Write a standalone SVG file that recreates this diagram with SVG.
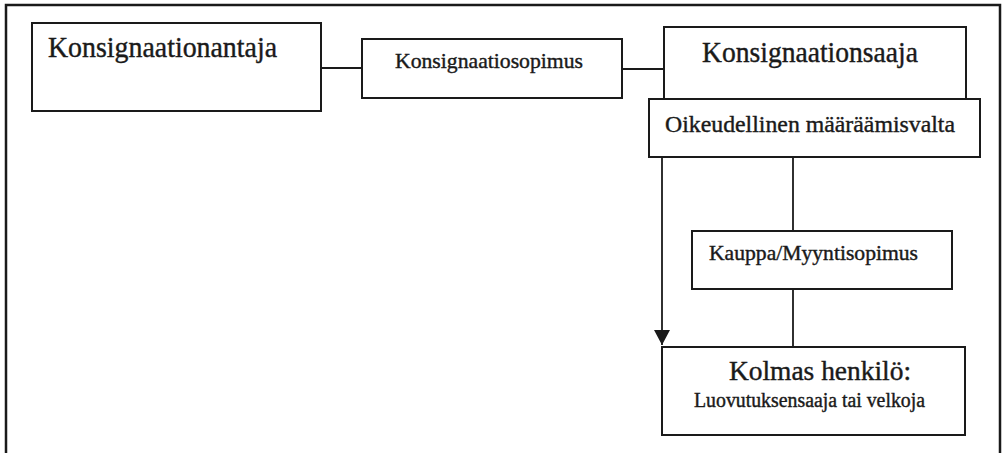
<svg xmlns="http://www.w3.org/2000/svg" width="1003" height="453" viewBox="0 0 1003 453">
<defs>
<style>
.box{fill:#fff;stroke:#1a1a1a;stroke-width:2}
.frame{fill:none;stroke:#1a1a1a;stroke-width:2.5}
.line{fill:none;stroke:#1a1a1a;stroke-width:1.8}
.t{font-family:'Liberation Serif','Times New Roman',serif;fill:#1a1a1a;stroke:#1a1a1a;stroke-width:0.4}
</style>
<marker id="arrow" markerWidth="16" markerHeight="15" refX="8" refY="15" orient="0" markerUnits="userSpaceOnUse">
<path d="M0,0 L16,0 L8,15 Z" fill="#1a1a1a"/>
</marker>
</defs>
<rect width="1003" height="453" fill="#fff"/>
<path class="frame" d="M6,460 L6,5 L1000,5 L1000,460"/>
<g id="connectors">
<line class="line" x1="321" y1="68" x2="362" y2="68"/>
<line class="line" x1="622" y1="69" x2="664" y2="69"/>
<line class="line" x1="662" y1="157" x2="662" y2="345" marker-end="url(#arrow)"/>
<line class="line" x1="793" y1="157" x2="793" y2="231"/>
<line class="line" x1="793" y1="289" x2="793" y2="347"/>
</g>
<g id="konsignaationantaja">
<rect class="box" x="32" y="23" width="289" height="88"/>
<text class="t" x="48" y="57" font-size="29" textLength="229" lengthAdjust="spacingAndGlyphs">Konsignaationantaja</text>
</g>
<g id="konsignaatiosopimus">
<rect class="box" x="362" y="39" width="260" height="59"/>
<text class="t" x="395" y="68" font-size="22" textLength="188" lengthAdjust="spacingAndGlyphs">Konsignaatiosopimus</text>
</g>
<g id="konsignaationsaaja">
<rect class="box" x="664" y="27" width="302" height="80"/>
<text class="t" x="702" y="62" font-size="29" textLength="216" lengthAdjust="spacingAndGlyphs">Konsignaationsaaja</text>
</g>
<g id="maaraamisvalta">
<rect class="box" x="649" y="99" width="331" height="58"/>
<text class="t" x="665" y="132" font-size="24" textLength="290" lengthAdjust="spacingAndGlyphs">Oikeudellinen määräämisvalta</text>
</g>
<g id="kauppa">
<rect class="box" x="692" y="231" width="260" height="58"/>
<text class="t" x="709" y="260" font-size="21" textLength="209" lengthAdjust="spacingAndGlyphs">Kauppa/Myyntisopimus</text>
</g>
<g id="kolmas">
<rect class="box" x="662" y="347" width="303" height="88"/>
<text class="t" x="729" y="380" font-size="27" textLength="182" lengthAdjust="spacingAndGlyphs">Kolmas henkilö:</text>
<text class="t" x="694" y="407" font-size="20" textLength="231" lengthAdjust="spacingAndGlyphs">Luovutuksensaaja tai velkoja</text>
</g>
</svg>
